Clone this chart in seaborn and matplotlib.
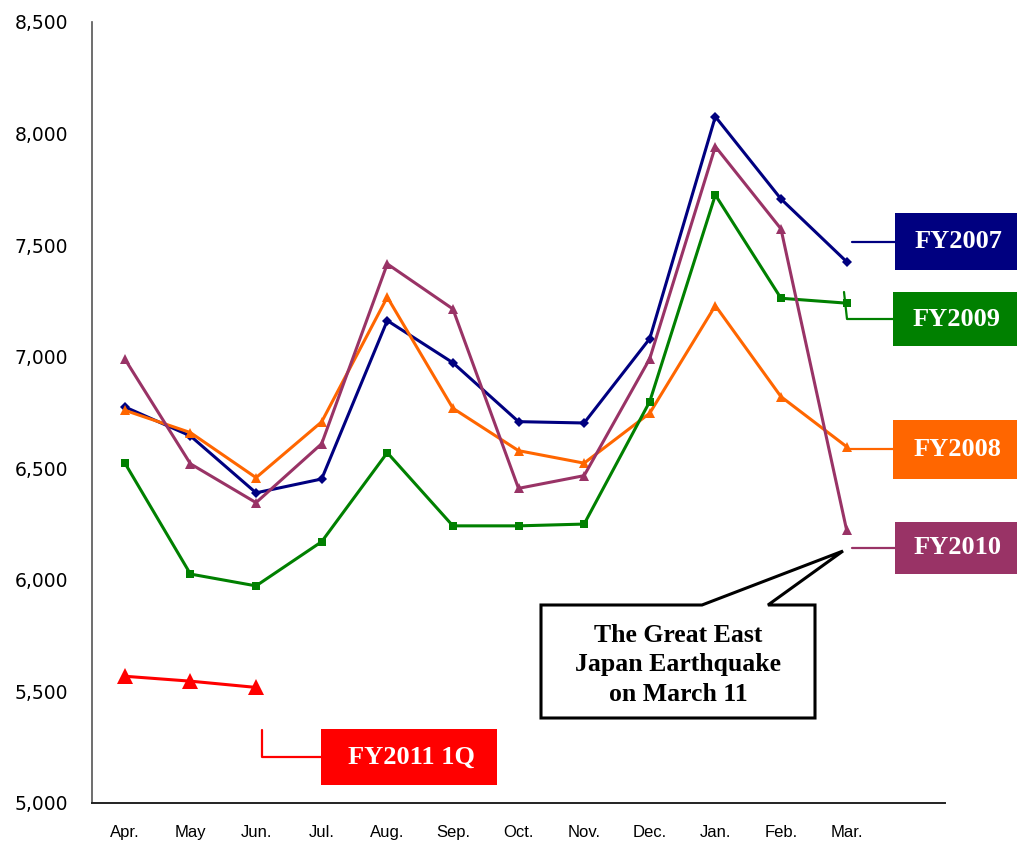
import matplotlib
matplotlib.use("Agg")
import matplotlib.pyplot as plt
from matplotlib.patches import Rectangle, Polygon
from matplotlib.lines import Line2D
import seaborn as sns
import pandas as pd

months = ["Apr.", "May", "Jun.", "Jul.", "Aug.", "Sep.", "Oct.", "Nov.", "Dec.", "Jan.", "Feb.", "Mar."]

fy2007 = [6775, 6645, 6390, 6452, 7162, 6973, 6709, 6703, 7081, 8076, 7707, 7426]
fy2008 = [6760, 6660, 6458, 6708, 7267, 6769, 6579, 6523, 6747, 7229, 6821, 6597]
fy2009 = [6524, 6026, 5973, 6171, 6570, 6242, 6242, 6250, 6799, 7725, 7262, 7240]
fy2010 = [6990, 6520, 6346, 6610, 7416, 7214, 6410, 6467, 6991, 7942, 7573, 6224]
fy2011_1q = [5568, 5546, 5518]

series = [
    ("FY2007", fy2007, "#000080", "D", 5.0),
    ("FY2008", fy2008, "#FF6600", "^", 6.5),
    ("FY2009", fy2009, "#008000", "s", 5.5),
    ("FY2010", fy2010, "#993366", "^", 6.5),
    ("FY2011 1Q", fy2011_1q, "#FF0000", "^", 11.0),
]

sns.set_theme(style="white")
plt.rcParams["font.family"] = ["DejaVu Sans"]
plt.rcParams["text.color"] = "black"
plt.rcParams["xtick.color"] = "black"
plt.rcParams["ytick.color"] = "black"

W, H = 1017, 841
fig = plt.figure(figsize=(W / 100, H / 100), dpi=100)
ax = fig.add_axes([92 / W, 1 - 803 / H, (945 - 92) / W, (803 - 22) / H])

for name, vals, color, marker, ms in series:
    df = pd.DataFrame({"month": range(len(vals)), "value": vals})
    sns.lineplot(data=df, x="month", y="value", ax=ax, color=color,
                 marker=marker, markersize=ms, markeredgewidth=0,
                 linewidth=2.2, legend=False)

ax.set_xlim(-0.5, 12.5)
ax.set_ylim(5000, 8500)
ax.set_yticks(range(5000, 8501, 500))
ax.set_yticklabels([f"{v:,}" for v in range(5000, 8501, 500)], fontsize=13.5,
                   color="black")
ax.set_xticks(range(len(months)))
ax.set_xticklabels(months, fontsize=12, family="Liberation Sans", color="black")
ax.tick_params(axis="y", length=0, pad=17)
ax.tick_params(axis="x", length=0, pad=16)
ax.set_xlabel("")
ax.set_ylabel("")
for side in ("top", "right"):
    ax.spines[side].set_visible(False)
ax.spines["left"].set_color("#555555")
ax.spines["bottom"].set_color("#222222")
ax.spines["left"].set_linewidth(1.2)
ax.spines["bottom"].set_linewidth(1.4)


def fp(px, py):
    return px / W, 1 - py / H


def label_box(text, x0, y0, x1, y1, color):
    fx0, fy1 = fp(x0, y1)
    fx1, fy0 = fp(x1, y0)
    fig.patches.append(Rectangle((fx0, fy1), fx1 - fx0, fy0 - fy1,
                                 transform=fig.transFigure, facecolor=color,
                                 edgecolor="none", zorder=5))
    cx, cy = fp((x0 + x1) / 2 + 2, (y0 + y1) / 2)
    fig.text(cx, cy, text, color="white", fontsize=19, fontweight="bold",
             family="Liberation Serif", ha="center", va="center", zorder=6)


def leader(points, color):
    xs = [p[0] / W for p in points]
    ys = [1 - p[1] / H for p in points]
    fig.lines.append(Line2D(xs, ys, transform=fig.transFigure, color=color,
                            linewidth=1.6, zorder=4))


# series labels with leader lines
leader([(852, 242), (895, 242)], "#000080")
label_box("FY2007", 895, 213, 1017, 270, "#000080")

leader([(844, 292), (847, 319), (893, 319)], "#008000")
label_box("FY2009", 893, 292, 1017, 346, "#008000")

leader([(845, 449), (893, 449)], "#FF6600")
label_box("FY2008", 893, 420, 1017, 479, "#FF6600")

leader([(852, 548), (895, 548)], "#993366")
label_box("FY2010", 895, 522, 1017, 574, "#993366")

leader([(262, 730), (262, 757), (321, 757)], "#FF0000")
label_box("FY2011 1Q", 321, 729, 497, 785, "#FF0000")

# callout about the earthquake
callout = [(541, 605), (702, 605), (843, 551), (768, 605), (815, 605),
           (815, 718), (541, 718)]
fig.patches.append(Polygon([fp(x, y) for x, y in callout], closed=True,
                           transform=fig.transFigure, facecolor="white",
                           edgecolor="black", linewidth=2.2, zorder=5))
cx, cy = fp(678, 665)
fig.text(cx, cy, "The Great East\nJapan Earthquake\non March 11",
         fontsize=18.5, fontweight="bold", family="Liberation Serif",
         color="black", ha="center", va="center", linespacing=1.38, zorder=6)

fig.savefig("out.png", dpi=100, facecolor="white")
